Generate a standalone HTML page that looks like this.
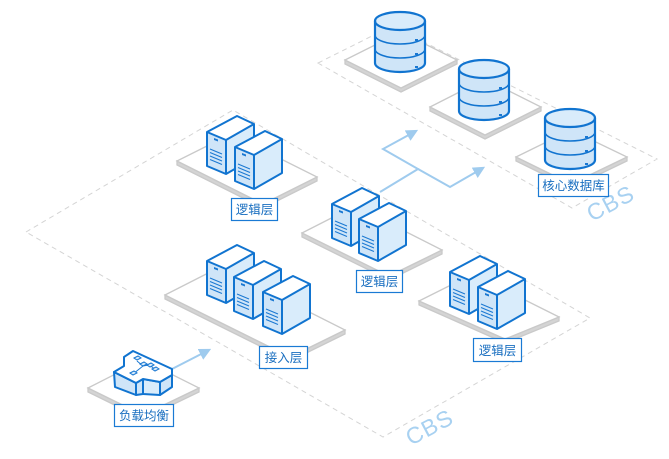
<!DOCTYPE html>
<html><head><meta charset="utf-8"><style>
html,body{margin:0;padding:0;background:#fff;}
svg{display:block;}
text{font-family:"Liberation Sans","Noto Sans CJK SC",sans-serif;}
</style></head><body>
<svg width="669" height="459" viewBox="0 0 669 459" xmlns="http://www.w3.org/2000/svg">
<defs>
<marker id="ah" viewBox="0 0 10 10" refX="8" refY="5" markerWidth="12" markerHeight="12" markerUnits="userSpaceOnUse" orient="auto">
<path d="M0,0 L10,5 L0,10 z" fill="#9fcbee"/>
</marker>
<g id="srv">
<polygon points="0,0 -19,-8 -19,26 0,34" fill="#cfe5f8"/>
<polygon points="0,0 28,-16 28,18 0,34" fill="#d9ecfb"/>
<polygon points="0,0 -19,-8 11,-24 28,-16" fill="#fff"/>
<g stroke="#1a78d2" stroke-width="1" fill="none">
<line x1="-16" y1="9" x2="-4" y2="14"/>
<line x1="-16" y1="12.5" x2="-4" y2="17.5"/>
<line x1="-16" y1="16" x2="-4" y2="21"/>
<line x1="-16" y1="19.5" x2="-4" y2="24.5"/>
</g>
<polygon points="-12,-2 -8,-0.5 -8,1.5 -12,0" fill="#1a78d2"/>
<g stroke="#1174d0" stroke-width="2" fill="none" stroke-linejoin="round">
<polygon points="-19,-8 11,-24 28,-16 28,18 0,34 -19,26"/>
<polyline points="-19,-8 0,0 28,-16"/>
<line x1="0" y1="0" x2="0" y2="34"/>
</g>
</g>
<g id="db">
<path d="M-25,0 L-25,42 A25,9 0 0 0 25,42 L25,0 Z" fill="#cfe5f8"/>
<ellipse cx="0" cy="0" rx="25" ry="9" fill="#d9ecfb"/>
<g stroke="#1174d0" stroke-width="2.2" fill="none">
<ellipse cx="0" cy="0" rx="25" ry="9"/>
<path d="M-25,0 L-25,42 A25,9 0 0 0 25,42 L25,0"/>
<path d="M-25,14 A25,9 0 0 0 25,14" stroke-width="1.5"/>
<path d="M-25,28 A25,9 0 0 0 25,28" stroke-width="1.5"/>
</g>
<g fill="#1a78d2">
<rect x="15" y="18" width="3" height="2"/>
<rect x="15" y="32" width="3" height="2"/>
<rect x="15" y="45" width="3" height="2"/>
</g>
</g>
</defs>

<!-- dashed regions -->
<polygon points="318,63 392,26 657,159 572,208" fill="none" stroke="#d4d4d4" stroke-width="1" stroke-dasharray="5,4"/>
<polygon points="26,232 233,110 590,318 383,437" fill="none" stroke="#d4d4d4" stroke-width="1" stroke-dasharray="5,4"/>

<text x="0" y="0" font-size="23" fill="#a8d1f1" transform="translate(592,222) rotate(-28)" letter-spacing="1">CBS</text>
<text x="0" y="0" font-size="23" fill="#a8d1f1" transform="translate(411,446) rotate(-28)" letter-spacing="1">CBS</text>

<!-- platforms -->
<g stroke="#c9c9c9" stroke-width="1.3">
<!-- DB platforms -->
<polygon points="345,60 401,88 457,60 457,64 401,92 345,64" fill="#d4d4d4"/>
<polygon points="345,60 401,32 457,60 401,88" fill="#fff"/>
<polygon points="430,107 485,135 541,107 541,111 485,139 430,111" fill="#d4d4d4"/>
<polygon points="430,107 485,79 541,107 485,135" fill="#fff"/>
<polygon points="516,157 571,184 627,157 627,161 571,188 516,161" fill="#d4d4d4"/>
<polygon points="516,157 571,130 627,157 571,184" fill="#fff"/>
<!-- A -->
<polygon points="177,161 263,204 317,177 317,181 263,208 177,165" fill="#d4d4d4"/>
<polygon points="177,161 231,134 317,177 263,204" fill="#fff"/>
<!-- B -->
<polygon points="302,233 389,276 442,250 442,254 389,280 302,237" fill="#d4d4d4"/>
<polygon points="302,233 355,206 442,250 389,276" fill="#fff"/>
<!-- C -->
<polygon points="419,301 505,339 559,317 559,321 505,343 419,305" fill="#d4d4d4"/>
<polygon points="419,301 473,274 559,317 505,339" fill="#fff"/>
<!-- D -->
<polygon points="165,295 290,357 345,330 345,334 290,361 165,299" fill="#d4d4d4"/>
<polygon points="165,295 220,267 345,330 290,357" fill="#fff"/>
<!-- LB -->
<polygon points="88,388 143,415 199,388 199,392 143,419 88,392" fill="#d4d4d4"/>
<polygon points="88,388 143,360 199,388 143,415" fill="#fff"/>
</g>

<!-- arrows -->
<g stroke="#9fcbee" stroke-width="2" fill="none">
<line x1="172" y1="369" x2="209" y2="350" marker-end="url(#ah)"/>
<polyline points="380,192 418,169 383,149 416,131" marker-end="url(#ah)"/>
<polyline points="418,169 450,187 483,168" marker-end="url(#ah)"/>
</g>

<!-- databases -->
<use href="#db" x="400" y="21"/>
<use href="#db" x="484" y="69"/>
<use href="#db" x="570" y="118"/>

<!-- servers -->
<use href="#srv" x="226" y="140"/>
<use href="#srv" x="254" y="155"/>
<use href="#srv" x="351" y="212"/>
<use href="#srv" x="378" y="227"/>
<use href="#srv" x="469" y="280"/>
<use href="#srv" x="497" y="295"/>
<use href="#srv" x="226" y="269"/>
<use href="#srv" x="253" y="285"/>
<use href="#srv" x="282" y="300"/>

<!-- load balancer -->
<g stroke="#1174d0" stroke-width="2" stroke-linejoin="round">
<polygon points="114,372 136,383 136,395 115,387" fill="#cfe5f8"/>
<polygon points="136,383 143,379 143,394 136,395" fill="#cfe5f8"/>
<polygon points="143,379 160,382 160,395 143,394" fill="#d9ecfb"/>
<polygon points="160,382 172,375 172,387 160,395" fill="#cfe5f8"/>
<polygon points="114,372 124,366 124,357 133,351 172,369 172,375 160,382 143,379 136,383" fill="#fff"/>
</g>
<g stroke="#1a78d2" stroke-width="1" fill="#d9ecfb">
<polyline points="137,361 143,366 149,365 155,369" fill="none"/>
<polyline points="143,366 133,374" fill="none"/>
<polygon points="134,358 138,356 141,358 137,360"/>
<polygon points="140,364 144,362 147,364 143,366"/>
<polygon points="147,365 151,363 154,365 150,367"/>
<polygon points="152,369 156,367 159,369 155,371"/>
<polygon points="130,373 134,371 137,373 133,375"/>
</g>

<!-- labels -->
<g fill="#fff" stroke="#1a7ad4" stroke-width="1.2">
<rect x="538.5" y="174.5" width="70" height="22"/>
<rect x="231.5" y="198.5" width="46" height="22"/>
<rect x="356.5" y="270.5" width="46" height="22"/>
<rect x="473.5" y="338.5" width="48" height="23"/>
<rect x="259.5" y="346.5" width="48" height="22"/>
<rect x="114.5" y="404.5" width="59" height="22"/>
</g>
<g fill="#1a6fc0" font-size="12.5" text-anchor="middle">
<text x="573.5" y="190">核心数据库</text>
<text x="254.5" y="214">逻辑层</text>
<text x="379.5" y="286">逻辑层</text>
<text x="497.5" y="355">逻辑层</text>
<text x="283.5" y="362">接入层</text>
<text x="144" y="420">负载均衡</text>
</g>
</svg>
</body></html>
